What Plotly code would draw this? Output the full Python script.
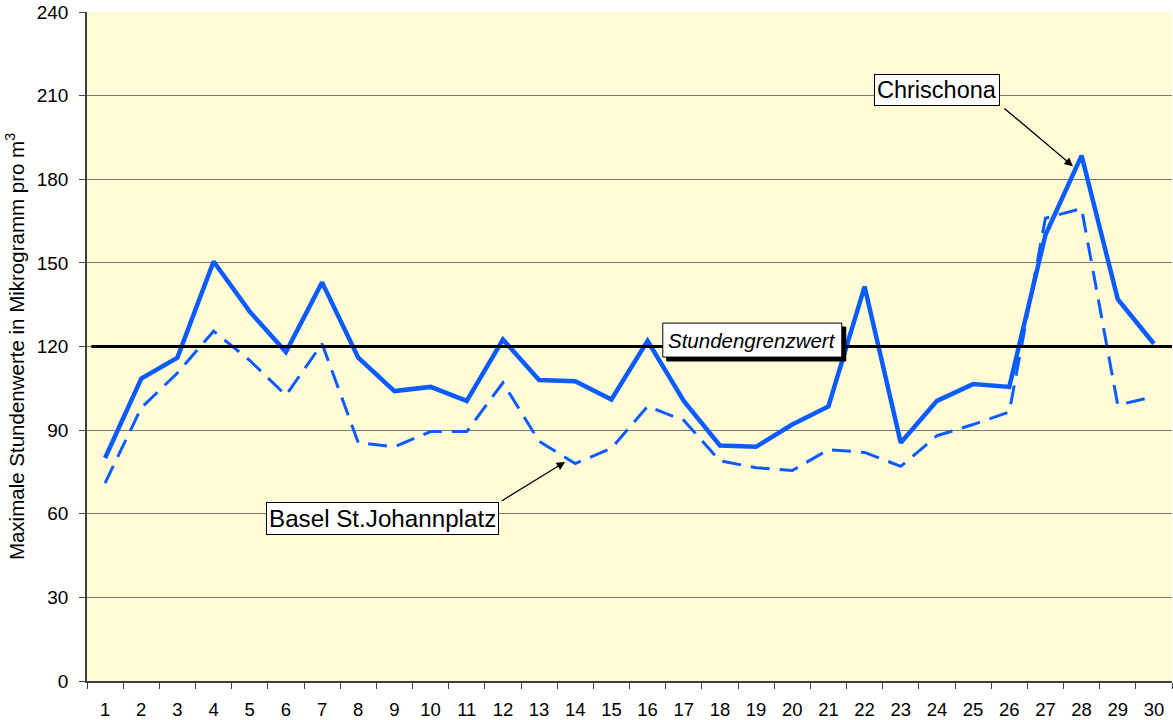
import plotly.graph_objects as go

days = [str(i) for i in range(1, 31)]
chrischona = [80, 108.5, 116, 150.5, 132.5, 118, 143, 116, 104, 105.5, 100.5, 122.5, 108, 107.5, 101, 122, 100.5, 84.5, 84, 92, 98.5, 141.5, 85.5, 100.5, 106.5, 105.5, 160, 188.5, 137, 121]
basel = [71, 98, 110.5, 125.5, 115, 102.5, 121, 85.5, 84, 89.5, 89.5, 107, 86, 78, 83.5, 98.5, 93.5, 79, 76.5, 75.5, 83, 82, 77, 88, 92, 96.5, 166, 169.5, 99, 102]
limit_value = 120
y_ticks = [0, 30, 60, 90, 120, 150, 180, 210, 240]

blue = "#0A5CFF"
font = "Liberation Sans, Arial, sans-serif"

fig = go.Figure()
fig.add_trace(go.Scatter(x=days, y=basel, mode="lines", line=dict(color=blue, width=3, dash="19px,10px"), name="Basel St.Johannplatz"))
fig.add_trace(go.Scatter(x=days, y=chrischona, mode="lines", line=dict(color=blue, width=4.5), name="Chrischona"))

fig.add_shape(type="line", xref="x domain", yref="y", x0=0.004, x1=1, y0=limit_value, y1=limit_value,
              line=dict(color="black", width=3))

# Stundengrenzwert label box with shadow
fig.add_shape(type="rect", xref="x", yref="y", x0=15.53, x1=20.48, y0=114.8, y1=127.0,
              fillcolor="black", line=dict(color="black", width=1))
fig.add_shape(type="rect", xref="x", yref="y", x0=15.42, x1=20.37, y0=116.2, y1=128.4,
              fillcolor="white", line=dict(color="black", width=1))
fig.add_annotation(x=17.9, y=122.3, xref="x", yref="y", text="<i>Stundengrenzwert</i>",
                   showarrow=False, font=dict(family=font, size=20.5, color="black"))

# Chrischona label and arrow
fig.add_annotation(x=23.0, y=212.0, xref="x", yref="y", text="Chrischona", showarrow=False,
                   bgcolor="white", bordercolor="black", borderwidth=1, borderpad=2,
                   font=dict(family=font, size=23.5, color="black"))
fig.add_annotation(x=26.76, y=184.7, xref="x", yref="y", text="", showarrow=True, ax=-70, ay=-59,
                   arrowhead=2, arrowsize=1.3, arrowwidth=1.3, arrowcolor="black", standoff=0, startstandoff=0)

# Basel label and arrow
fig.add_annotation(x=7.66, y=58.3, xref="x", yref="y", text="Basel St.Johannplatz", showarrow=False,
                   bgcolor="white", bordercolor="black", borderwidth=1, borderpad=2,
                   font=dict(family=font, size=24.2, color="black"))
fig.add_annotation(x=12.72, y=78.6, xref="x", yref="y", text="", showarrow=True, ax=-65, ay=40,
                   arrowhead=2, arrowsize=1.3, arrowwidth=1.3, arrowcolor="black", standoff=0, startstandoff=0)

fig.update_layout(
    width=1173, height=720,
    margin=dict(l=87, r=1, t=12, b=39),
    paper_bgcolor="white", plot_bgcolor="#FFFBD7",
    showlegend=False,
    font=dict(family=font, size=19, color="black"),
    xaxis=dict(type="category", tickson="boundaries", ticks="outside", ticklen=6, tickcolor="#404040",
               showgrid=False, showline=True, linecolor="#404040", linewidth=1.5, mirror=False,
               tickfont=dict(size=18.5), range=[-0.5, 29.5], automargin=False, ticklabelstandoff=11),
    yaxis=dict(range=[0, 240], tickvals=y_ticks, ticks="outside", ticklen=6, tickcolor="#404040",
               showgrid=True, gridcolor="#7a7a70", gridwidth=1.2, showline=True, linecolor="#404040", linewidth=1.5,
               zeroline=False, tickfont=dict(size=19), automargin=False, ticklabelstandoff=7,
               title=dict(text="Maximale Stundenwerte in Mikrogramm pro m<sup>3</sup>", font=dict(size=20.5), standoff=7)),
)
fig.write_html("out.html", post_script="document.body.style.margin='0px';", config={"displayModeBar": False})
